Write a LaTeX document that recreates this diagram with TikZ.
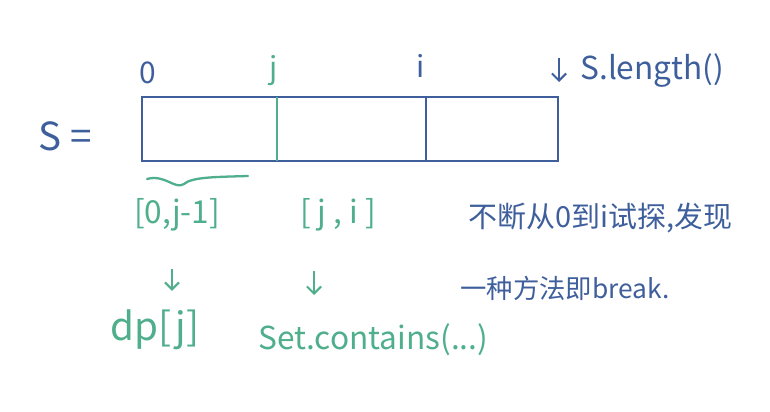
\documentclass[tikz,border=0pt]{standalone}
\usepackage{fontspec}
\setmainfont{Noto Sans CJK SC}
\usetikzlibrary{arrows.meta,calc}

\definecolor{inkblue}{HTML}{3E5F9C}
\definecolor{inkgreen}{HTML}{4FAE8C}

\tikzset{
  bluetext/.style={text=inkblue,inner sep=0pt},
  greentext/.style={text=inkgreen,inner sep=0pt},
  downarrow/.style={draw=inkgreen,line width=1.2pt,-{Straight Barb[length=4pt,width=8pt]}},
}

\begin{document}
\begin{tikzpicture}[x=0.02cm,y=-0.02cm]

\useasboundingbox (0,0) rectangle (770,412);

% Draw string box
\draw[inkblue,line width=1.1pt] (142,97) rectangle (558,161);
\draw[inkgreen,line width=1.1pt] (277,97) -- (277,161);
\draw[inkblue,line width=1.1pt] (426,97) -- (426,161);

% Draw index labels
\node[bluetext,font=\fontsize{17}{17}\selectfont] (zero) at (148,73) {0};
\node[greentext,font=\fontsize{17}{17}\selectfont] (jidx) at (274,71) {j};
\node[bluetext,font=\fontsize{17}{17}\selectfont] (iidx) at (421,66) {i};
\node[bluetext,anchor=west,font=\fontsize{18}{18}\selectfont] (len) at (580,71) {S.length()};
\coordinate (endtop) at (559,58);
\coordinate (endbot) at (559,82);
\draw[inkblue,line width=1.2pt,-{Straight Barb[length=4pt,width=8pt]}] (endtop) -- (endbot);

% Draw S =
\node[bluetext,font=\fontsize{22}{22}\selectfont] (sname) at (65,136) {S =};

% Draw brace under first part
\draw[inkgreen,line width=1.3pt,line cap=round] (147,179) .. controls (165,174) and (175,190) .. (184,184)
  .. controls (192,177) and (215,177) .. (248,176);

% Draw ranges
\node[greentext,font=\fontsize{18}{18}\selectfont] (left) at (177,215) {[0,j-1]};
\node[greentext,font=\fontsize{18}{18}\selectfont] (right) at (338,215) {[ j , i ]};

% Draw what they map to
\node[greentext,font=\fontsize{22}{22}\selectfont] (dp) at (155,330) {dp[j]};
\node[greentext,anchor=west,font=\fontsize{18}{18}\selectfont] (contains) at (258,340) {Set.contains(...)};
\draw[downarrow] ($(left)!0.47!(left |- dp)+(-5,0)$) -- ($(left)!0.66!(left |- dp)+(-5,0)$);
\draw[downarrow] ($(right)!0.45!(right |- contains)+(-24,0)$) -- ($(right)!0.64!(right |- contains)+(-24,0)$);

% Draw notes
\node[bluetext,anchor=west,font=\fontsize{16.5}{16.5}\selectfont] (note1) at (468,218) {不断从0到i试探,发现};
\node[bluetext,anchor=west,font=\fontsize{15}{15}\selectfont] (note2) at (460,288) {一种方法即break.};

\end{tikzpicture}
\end{document}
